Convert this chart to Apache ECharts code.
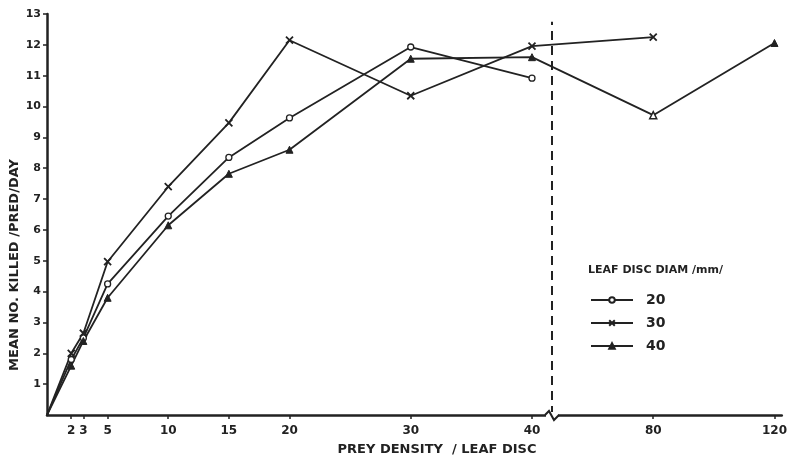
<!DOCTYPE html>
<html>
<head>
<meta charset="utf-8">
<script src="https://cdn.jsdelivr.net/npm/echarts@6/dist/echarts.min.js"></script>
<style>html,body{margin:0;padding:0;background:#fff;}#c{width:790px;height:461px;}</style>
</head>
<body>
<div id="c"></div>
<script>
// Prey density (per leaf disc) — real values
const density20 = [0, 2, 3, 5, 10, 15, 20, 30, 40];
const killed20  = [0, 1.8, 2.5, 4.25, 6.45, 8.35, 9.63, 11.93, 10.92];
const density30 = [0, 2, 3, 5, 10, 15, 20, 30, 40, 80];
const killed30  = [0, 2.0, 2.65, 4.97, 7.4, 9.47, 12.15, 10.35, 11.96, 12.25];
const density40 = [0, 2, 3, 5, 10, 15, 20, 30, 40, 80, 120];
const killed40  = [0, 1.6, 2.4, 3.8, 6.15, 7.82, 8.6, 11.55, 11.6, 9.72, 12.06];
const xTicks = [2, 3, 5, 10, 15, 20, 30, 40, 80, 120];
const yTicks = [1,2,3,4,5,6,7,8,9,10,11,12,13];
const seriesNames = ['20', '30', '40'];

// Broken x scale: linear 0–40, compressed (1/4) beyond the break
const BREAK_AT = 41.65;
function fwd(x) { return x <= 40 ? x : 30 + x / 4; }
function inv(v) { return v <= BREAK_AT ? v : (v - 30) * 4; }

const ink = '#222';
const font = 'DejaVu Sans';
function pairs(xs, ys, hollowIdx) {
  return xs.map((x, i) => {
    const d = { value: [fwd(x), ys[i]] };
    if (x === 0) d.symbol = 'none';
    if (hollowIdx !== undefined && i === hollowIdx) {
      d.itemStyle = { color: '#fff', borderColor: ink, borderWidth: 1.5 };
    }
    return d;
  });
}
const crossPath = 'path://M0,0L10,10M10,0L0,10';

const chart = echarts.init(document.getElementById('c'));
chart.setOption({
  animation: false,
  backgroundColor: '#fff',
  grid: { left: 47, right: 7, top: 14, bottom: 46 },
  xAxis: {
    type: 'value', min: 0, max: 60.6,
    axisLine: { lineStyle: { color: ink, width: 2.5 } },
    splitLine: { show: false },
    axisTick: { customValues: xTicks.map(fwd), length: 4, lineStyle: { color: ink, width: 1.5 } },
    axisLabel: {
      customValues: xTicks.map(fwd),
      formatter: v => String(Math.round(inv(v))),
      color: ink, fontFamily: font, fontWeight: 'bold', fontSize: 12, margin: 10
    }
  },
  yAxis: {
    type: 'value', min: 0, max: 13, interval: 1,
    axisLine: { show: true, lineStyle: { color: ink, width: 2.5 } },
    splitLine: { show: false },
    axisTick: { customValues: yTicks, length: 4, lineStyle: { color: ink, width: 1.5 } },
    axisLabel: {
      customValues: yTicks,
      color: ink, fontFamily: font, fontWeight: 'bold', fontSize: 11, margin: 6
    }
  },
  legend: {
    orient: 'vertical', left: 585, top: 288,
    itemWidth: 42, itemHeight: 7, itemGap: 9,
    data: seriesNames,
    textStyle: { color: ink, fontFamily: font, fontWeight: 'bold', fontSize: 14, padding: [0, 0, 0, 8] }
  },
  series: [
    {
      name: '20', type: 'line', data: pairs(density20, killed20),
      symbol: 'circle', symbolSize: 6,
      lineStyle: { color: ink, width: 1.8 },
      itemStyle: { color: '#fff', borderColor: ink, borderWidth: 1.3 },
      showSymbol: true
    },
    {
      name: '30', type: 'line', data: pairs(density30, killed30),
      symbol: crossPath, symbolSize: 7,
      lineStyle: { color: ink, width: 1.8 },
      itemStyle: { color: ink, borderColor: ink, borderWidth: 1.8 },
      markLine: {
        silent: true, symbol: 'none', label: { show: false },
        lineStyle: { color: ink, type: [9, 6], width: 2 },
        data: [[{ coord: [BREAK_AT, 0] }, { coord: [BREAK_AT, 12.75] }]]
      }
    },
    {
      name: '40', type: 'line', data: pairs(density40, killed40, 9),
      symbol: 'triangle', symbolSize: 7,
      lineStyle: { color: ink, width: 1.8 },
      itemStyle: { color: ink, borderColor: ink, borderWidth: 1 }
    }
  ]
});

const bp = chart.convertToPixel({ gridIndex: 0 }, [BREAK_AT, 0]);
chart.setOption({
  graphic: [
    {
      type: 'text',
      x: 15, y: 265, rotation: Math.PI / 2,
      style: {
        text: 'MEAN NO. KILLED /PRED/DAY', fill: ink,
        font: 'bold 13px ' + font, align: 'center', verticalAlign: 'middle'
      }
    },
    {
      type: 'text', x: 437, y: 450,
      style: {
        text: 'PREY DENSITY  / LEAF DISC', fill: ink,
        font: 'bold 13px ' + font, align: 'center', verticalAlign: 'middle'
      }
    },
    {
      type: 'text', x: 588, y: 270,
      style: {
        text: 'LEAF DISC DIAM /mm/', fill: ink,
        font: 'bold 11px ' + font, align: 'left', verticalAlign: 'middle'
      }
    },
    {
      type: 'rect', shape: { x: bp[0] - 6, y: bp[1] - 3, width: 12, height: 6 },
      style: { fill: '#fff' }, z: 100
    },
    {
      type: 'polyline', z: 101,
      shape: { points: [[bp[0] - 7, bp[1]], [bp[0] - 3, bp[1] - 4], [bp[0] + 2, bp[1] + 5], [bp[0] + 7, bp[1]]] },
      style: { stroke: ink, lineWidth: 2, fill: null }
    }
  ]
});
</script>
</body>
</html>
